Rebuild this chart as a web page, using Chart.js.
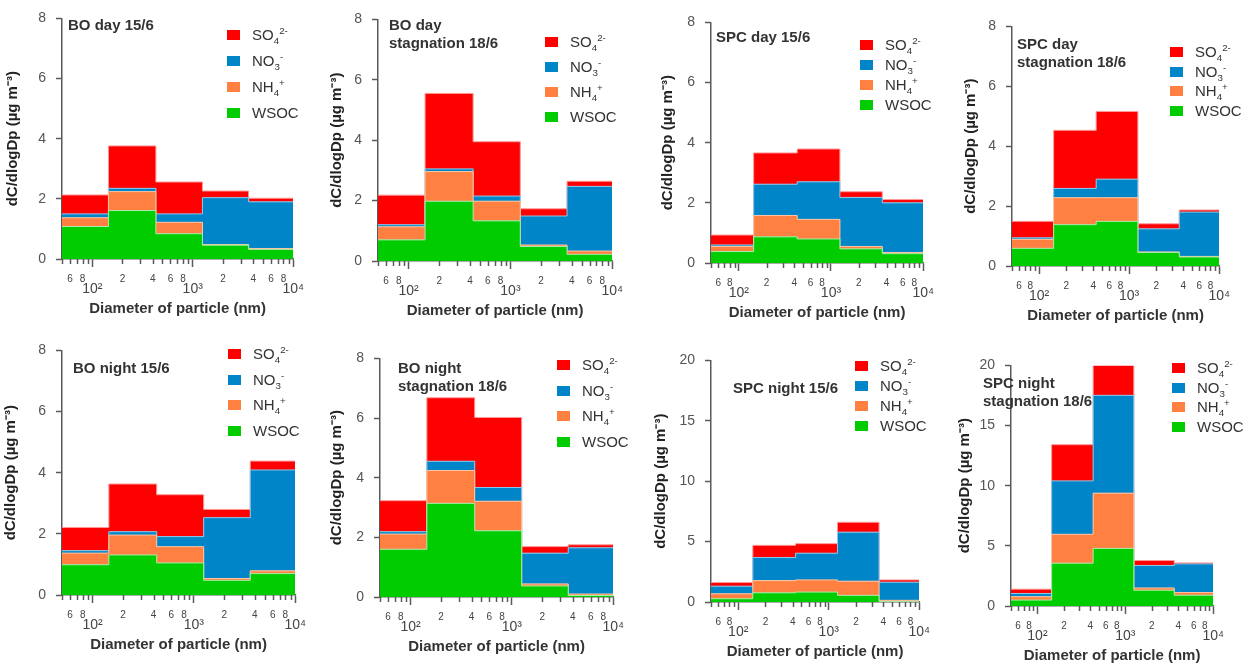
<!DOCTYPE html>
<html>
<head>
<meta charset="utf-8">
<script src="https://cdn.jsdelivr.net/npm/chart.js@4.4.1/dist/chart.umd.min.js"></script>
<style>
  body { margin: 0; background: #fff; font-family: 'Liberation Sans', Arial, sans-serif; }
  #fig { position: relative; width: 1255px; height: 668px; overflow: hidden; }
  .panel { position: absolute; }
  .panel canvas { position: absolute; left: 0; top: 0; }
  .ttl { position: absolute; font-weight: bold; font-size: 15px; line-height: 18px; color: #333; white-space: nowrap; }
  .sw { position: absolute; width: 13px; height: 10px; }
  .lab { position: absolute; font-size: 15px; line-height: 18px; color: #333; white-space: nowrap; }
  .lab sub, .lab sup { font-size: 65%; line-height: 0; }
</style>
</head>
<body>
<div id="fig"></div>
<script>
// bornes des classes de taille (nm)
const binEdges = [50, 145, 430, 1250, 3600, 10000];
const xTickValues = [50, 60, 70, 80, 90, 100, 200, 300, 400, 500, 600, 700, 800, 900,
  1000, 2000, 3000, 4000, 5000, 6000, 7000, 8000, 9000, 10000];

const panelTitles = [
  ['BO day 15/6'], ['BO day', 'stagnation 18/6'], ['SPC day 15/6'], ['SPC day', 'stagnation 18/6'],
  ['BO night 15/6'], ['BO night', 'stagnation 18/6'], ['SPC night 15/6'], ['SPC night', 'stagnation 18/6']
];
const yMax = [8, 8, 8, 8, 8, 8, 20, 20];
const yStep = [2, 2, 2, 2, 2, 2, 5, 5];

// dC/dlogDp par espèce, une ligne par panneau, une valeur par classe
const wsoc = [
  [1.08, 1.61, 0.84, 0.46, 0.32],
  [0.70, 1.98, 1.33, 0.48, 0.22],
  [0.38, 0.87, 0.80, 0.47, 0.31],
  [0.59, 1.38, 1.49, 0.45, 0.30],
  [0.99, 1.31, 1.05, 0.48, 0.70],
  [1.60, 3.14, 2.22, 0.37, 0.05],
  [0.27, 0.76, 0.82, 0.55, 0.05],
  [0.49, 3.56, 4.79, 1.31, 0.90]
];
const nh4 = [
  [0.29, 0.63, 0.38, 0.02, 0.03],
  [0.43, 0.98, 0.65, 0.05, 0.11],
  [0.17, 0.71, 0.65, 0.08, 0.04],
  [0.30, 0.90, 0.79, 0.02, 0.02],
  [0.38, 0.65, 0.53, 0.06, 0.09],
  [0.51, 1.10, 0.99, 0.07, 0.05],
  [0.41, 1.01, 1.01, 1.17, 0.09],
  [0.28, 2.40, 4.59, 0.19, 0.22]
];
const no3 = [
  [0.13, 0.11, 0.28, 1.56, 1.55],
  [0.07, 0.09, 0.17, 0.96, 2.14],
  [0.05, 1.04, 1.25, 1.63, 1.65],
  [0.05, 0.31, 0.62, 0.77, 1.48],
  [0.08, 0.11, 0.33, 1.99, 3.30],
  [0.08, 0.31, 0.46, 1.03, 1.55],
  [0.63, 1.91, 2.21, 4.06, 1.50],
  [0.27, 4.44, 8.13, 1.87, 2.38]
];
const so4 = [
  [0.63, 1.41, 1.06, 0.22, 0.12],
  [0.98, 2.50, 1.80, 0.24, 0.17],
  [0.33, 1.04, 1.09, 0.19, 0.11],
  [0.55, 1.94, 2.26, 0.17, 0.07],
  [0.76, 1.56, 1.37, 0.27, 0.29],
  [1.04, 2.13, 2.35, 0.22, 0.10],
  [0.30, 1.01, 0.79, 0.82, 0.19],
  [0.36, 3.01, 2.49, 0.41, 0.08]
];

// ordre d'empilement : du bas vers le haut
const species = [
  { name: 'WSOC', html: 'WSOC', values: wsoc, color: '#00cc00', edge: '#a8eaa8' },
  { name: 'NH4+', html: 'NH<sub>4</sub><sup>+</sup>', values: nh4, color: '#ff8040', edge: '#ffc4a4' },
  { name: 'NO3-', html: 'NO<sub>3</sub><sup>-</sup>', values: no3, color: '#0085c8', edge: '#8cc8ea' },
  { name: 'SO42-', html: 'SO<sub>4</sub><sup>2-</sup>', values: so4, color: '#ff0000', edge: '#ff9a9a' }
];

// zone de tracé de chaque panneau dans la page : gauche, haut, droite, bas
const plotAreas = [
  [62, 15, 303, 259], [378, 16, 622, 261], [711, 19, 933, 263], [1012, 23, 1229, 266],
  [62, 347, 305, 595], [380, 355, 623, 597], [711, 357, 929, 602], [1011, 362, 1223, 606]
];
const titlePos = [[6, 10], [11, 9], [5, 18], [5, 21], [11, 21], [18, 13], [22, 31], [-28, 21]];
const legendPos = [[165, 20, 26], [167, 26, 25], [149, 26, 20], [158, 29, 19.5],
  [166, 7, 25.5], [177, 10, 25.7], [144, 9, 20], [161, 6, 19.7]];
const yTitleGap = [49, 41, 43, 41, 51, 43, 50, 46];

const axisColor = '#5a5a5a';
const supDigits = { 2: '²', 3: '³', 4: '⁴' };

function isDecade(v) {
  const e = Math.log10(v);
  return Math.abs(e - Math.round(e)) < 1e-9;
}

function stepPoints(vals) {
  const pts = vals.map((v, i) => ({ x: binEdges[i], y: v }));
  pts.push({ x: binEdges[binEdges.length - 1], y: vals[vals.length - 1] });
  return pts;
}

// petites graduations mineures sur l'axe x
const minorTicks = {
  id: 'minorTicks',
  afterDraw(chart) {
    const sx = chart.scales.x;
    const ctx = chart.ctx;
    ctx.save();
    ctx.strokeStyle = axisColor;
    ctx.lineWidth = 1.5;
    sx.ticks.forEach(t => {
      if (isDecade(t.value)) return;
      const px = Math.round(sx.getPixelForValue(t.value)) + 0.5;
      ctx.beginPath();
      ctx.moveTo(px, sx.top);
      ctx.lineTo(px, sx.top + 5);
      ctx.stroke();
    });
    ctx.restore();
  }
};

function buildPanel(p) {
  const fig = document.getElementById('fig');
  const [L, T, R, B] = plotAreas[p];
  const div = document.createElement('div');
  div.className = 'panel';
  div.style.left = (L - 62) + 'px';
  div.style.top = (T - 15) + 'px';
  div.style.width = (R - L + 69) + 'px';
  div.style.height = (B - T + 75) + 'px';
  const canvas = document.createElement('canvas');
  canvas.width = R - L + 69;
  canvas.height = B - T + 75;
  div.appendChild(canvas);
  fig.appendChild(div);

  // titre du panneau
  const [tx, ty] = titlePos[p];
  panelTitles[p].forEach((line, i) => {
    const t = document.createElement('div');
    t.className = 'ttl';
    t.style.left = (62 + tx) + 'px';
    t.style.top = (15 + ty - 9 + i * 18) + 'px';
    t.textContent = line;
    div.appendChild(t);
  });

  // légende (SO4 en haut)
  const [lx, ly, sp] = legendPos[p];
  species.slice().reverse().forEach((s, k) => {
    const cy = 15 + ly + k * sp;
    const sw = document.createElement('div');
    sw.className = 'sw';
    sw.style.left = (62 + lx) + 'px';
    sw.style.top = (cy - 5) + 'px';
    sw.style.background = s.color;
    const lab = document.createElement('div');
    lab.className = 'lab';
    lab.style.left = (62 + lx + 25) + 'px';
    lab.style.top = (cy - 9) + 'px';
    lab.innerHTML = s.html;
    div.appendChild(sw);
    div.appendChild(lab);
  });

  new Chart(canvas, {
    type: 'line',
    data: {
      datasets: species.map((s, i) => ({
        label: s.name,
        data: stepPoints(s.values[p]),
        stepped: true,
        fill: i === 0 ? 'origin' : '-1',
        backgroundColor: s.color,
        borderColor: s.edge,
        borderWidth: 1,
        pointRadius: 0
      }))
    },
    options: {
      responsive: false,
      animation: false,
      devicePixelRatio: 1,
      layout: { padding: { top: 15, right: 7, left: 0, bottom: 0 } },
      plugins: { legend: { display: false }, tooltip: { enabled: false } },
      scales: {
        x: {
          type: 'logarithmic',
          min: 50,
          max: 10000,
          afterFit: s => { s.height = 60; },
          afterBuildTicks: s => { s.ticks = xTickValues.map(v => ({ value: v, major: isDecade(v) })); },
          ticks: {
            autoSkip: false,
            maxRotation: 0,
            padding: 6,
            color: '#444',
            font: c => (c.tick && isDecade(c.tick.value)) ? { size: 14, lineHeight: 0.75 } : { size: 10 },
            callback: v => {
              const e = Math.floor(Math.log10(v) + 1e-9);
              const m = Math.round(v / Math.pow(10, e));
              if (m === 1) return ['', '10' + supDigits[e]];
              return [2, 4, 6, 8].includes(m) ? String(m) : '';
            }
          },
          grid: {
            drawOnChartArea: false,
            tickLength: 8,
            tickWidth: 1.5,
            tickColor: c => (c.tick && isDecade(c.tick.value)) ? axisColor : 'rgba(0,0,0,0)'
          },
          border: { color: axisColor, width: 1.5 },
          title: {
            display: true,
            text: 'Diameter of particle (nm)',
            color: '#333',
            font: { size: 15, weight: 'bold' },
            padding: { top: 0, bottom: 1 }
          }
        },
        y: {
          stacked: true,
          min: 0,
          max: yMax[p],
          afterFit: s => { s.width = 62; },
          ticks: { stepSize: yStep[p], padding: 10, color: '#555', font: { size: 14 } },
          grid: { drawOnChartArea: false, tickLength: 6, tickWidth: 1.5, tickColor: axisColor },
          border: { color: axisColor, width: 1.5 },
          title: {
            display: true,
            text: 'dC/dlogDp (µg m⁻³)',
            color: '#222',
            font: { size: 15, weight: 'bold' },
            padding: { top: 62 - yTitleGap[p] - 9, bottom: 0 }
          }
        }
      }
    },
    plugins: [minorTicks]
  });
}

for (let p = 0; p < plotAreas.length; p++) buildPanel(p);
</script>
</body>
</html>
